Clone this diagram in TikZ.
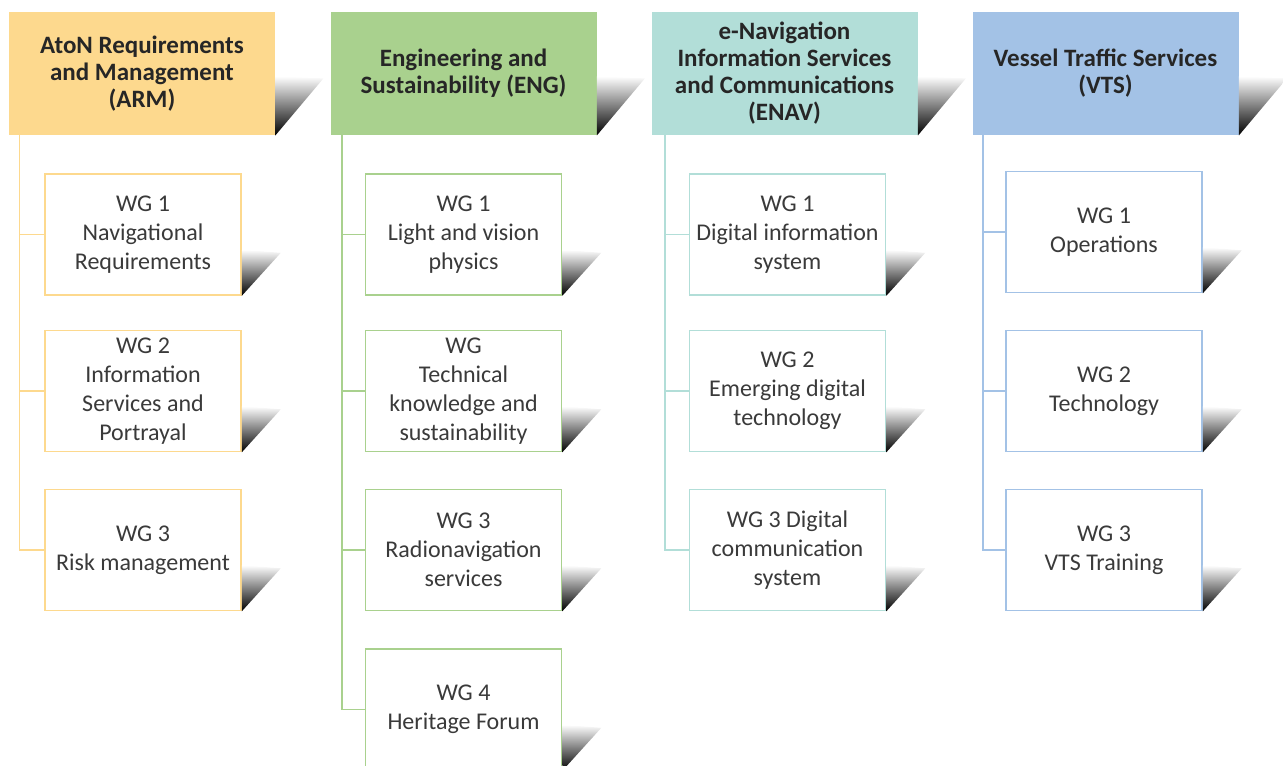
\documentclass[tikz,border=0pt]{standalone}
\usepackage{fontspec}
\setmainfont{Carlito}
\usepackage{tikz}

\definecolor{armfill}{RGB}{253,217,142}
\definecolor{engfill}{RGB}{169,209,142}
\definecolor{enavfill}{RGB}{178,222,216}
\definecolor{vtsfill}{RGB}{163,194,230}
\definecolor{wgtext}{RGB}{58,58,58}
\definecolor{headtext}{RGB}{38,38,38}

\begin{document}
\begin{tikzpicture}[x=0.5pt,y=0.5pt,yscale=-1,xscale=1,
  head/.style={rectangle, minimum width=133pt, minimum height=61.5pt, inner sep=2pt,
    align=center, text=headtext, font=\fontsize{12.5}{13.5}\selectfont\bfseries},
  wg/.style={rectangle, draw, fill=white, line width=0.8pt, minimum width=98pt,
    minimum height=60.5pt, inner sep=2pt, align=center, text=wgtext,
    font=\fontsize{12}{14.5}\selectfont},
  drop/.style={top color=white, bottom color=black},
  branch/.style={line width=0.8pt}]
\useasboundingbox (0,0) rectangle (1283,765);

%Shape: ARM column
\draw (142,73.5) node [head, fill=armfill] (armH) {AtoN Requirements\\and Management\\(ARM)};
\shade [drop] (armH.south east) -- ++(0,-59) -- ++(48,2) -- cycle;
\draw (143,234.5) node [wg, draw=armfill] (armA) {WG 1\\Navigational\\Requirements};
\shade [drop] (armA.south east) -- ++(0,-46) -- ++(39,3) -- cycle;
\draw (143,391) node [wg, draw=armfill] (armB) {WG 2\\Information\\Services and\\Portrayal};
\shade [drop] (armB.south east) -- ++(0,-46) -- ++(39,3) -- cycle;
\draw (143,550) node [wg, draw=armfill] (armC) {WG 3\\Risk management};
\shade [drop] (armC.south east) -- ++(0,-46) -- ++(39,3) -- cycle;
%Straight Lines: ARM branches
\draw [branch, armfill] ([xshift=5.5pt]armH.south west) |- (armA.west);
\draw [branch, armfill] ([xshift=5.5pt]armH.south west) |- (armB.west);
\draw [branch, armfill] ([xshift=5.5pt]armH.south west) |- (armC.west);

%Shape: ENG column
\draw (463.5,73.5) node [head, fill=engfill] (engH) {Engineering and\\Sustainability (ENG)};
\shade [drop] (engH.south east) -- ++(0,-59) -- ++(48,2) -- cycle;
\draw (463.5,234.5) node [wg, draw=engfill] (engA) {WG 1\\Light and vision\\physics};
\shade [drop] (engA.south east) -- ++(0,-46) -- ++(39,3) -- cycle;
\draw (463.5,391) node [wg, draw=engfill] (engB) {WG\\Technical\\knowledge and\\sustainability};
\shade [drop] (engB.south east) -- ++(0,-46) -- ++(39,3) -- cycle;
\draw (463.5,550) node [wg, draw=engfill] (engC) {WG 3\\Radionavigation\\services};
\shade [drop] (engC.south east) -- ++(0,-46) -- ++(39,3) -- cycle;
\draw (463.5,709.5) node [wg, draw=engfill] (engD) {WG 4\\Heritage Forum};
\shade [drop] (engD.south east) -- ++(0,-46) -- ++(39,3) -- cycle;
%Straight Lines: ENG branches
\draw [branch, engfill] ([xshift=6pt]engH.south west) |- (engA.west);
\draw [branch, engfill] ([xshift=6pt]engH.south west) |- (engB.west);
\draw [branch, engfill] ([xshift=6pt]engH.south west) |- (engC.west);
\draw [branch, engfill] ([xshift=6pt]engH.south west) |- (engD.west);

%Shape: ENAV column
\draw (784.5,73.5) node [head, fill=enavfill] (enavH) {e-Navigation\\Information Services\\and Communications\\(ENAV)};
\shade [drop] (enavH.south east) -- ++(0,-59) -- ++(48,2) -- cycle;
\draw (787.5,234.5) node [wg, draw=enavfill] (enavA) {WG 1\\Digital information\\system};
\shade [drop] (enavA.south east) -- ++(0,-46) -- ++(39,3) -- cycle;
\draw (787.5,391) node [wg, draw=enavfill] (enavB) {WG 2\\Emerging digital\\technology};
\shade [drop] (enavB.south east) -- ++(0,-46) -- ++(39,3) -- cycle;
\draw (787.5,550) node [wg, draw=enavfill] (enavC) {WG 3 Digital\\communication\\system};
\shade [drop] (enavC.south east) -- ++(0,-46) -- ++(39,3) -- cycle;
%Straight Lines: ENAV branches
\draw [branch, enavfill] ([xshift=7pt]enavH.south west) |- (enavA.west);
\draw [branch, enavfill] ([xshift=7pt]enavH.south west) |- (enavB.west);
\draw [branch, enavfill] ([xshift=7pt]enavH.south west) |- (enavC.west);

%Shape: VTS column
\draw (1105.5,73.5) node [head, fill=vtsfill] (vtsH) {Vessel Traffic Services\\(VTS)};
\shade [drop] (vtsH.south east) -- ++(0,-59) -- ++(48,2) -- cycle;
\draw (1104,232) node [wg, draw=vtsfill] (vtsA) {WG 1\\Operations};
\shade [drop] (vtsA.south east) -- ++(0,-46) -- ++(39,3) -- cycle;
\draw (1104,391) node [wg, draw=vtsfill] (vtsB) {WG 2\\Technology};
\shade [drop] (vtsB.south east) -- ++(0,-46) -- ++(39,3) -- cycle;
\draw (1104,550) node [wg, draw=vtsfill] (vtsC) {WG 3\\VTS Training};
\shade [drop] (vtsC.south east) -- ++(0,-46) -- ++(39,3) -- cycle;
%Straight Lines: VTS branches
\draw [branch, vtsfill] ([xshift=5.5pt]vtsH.south west) |- (vtsA.west);
\draw [branch, vtsfill] ([xshift=5.5pt]vtsH.south west) |- (vtsB.west);
\draw [branch, vtsfill] ([xshift=5.5pt]vtsH.south west) |- (vtsC.west);

\end{tikzpicture}
\end{document}
